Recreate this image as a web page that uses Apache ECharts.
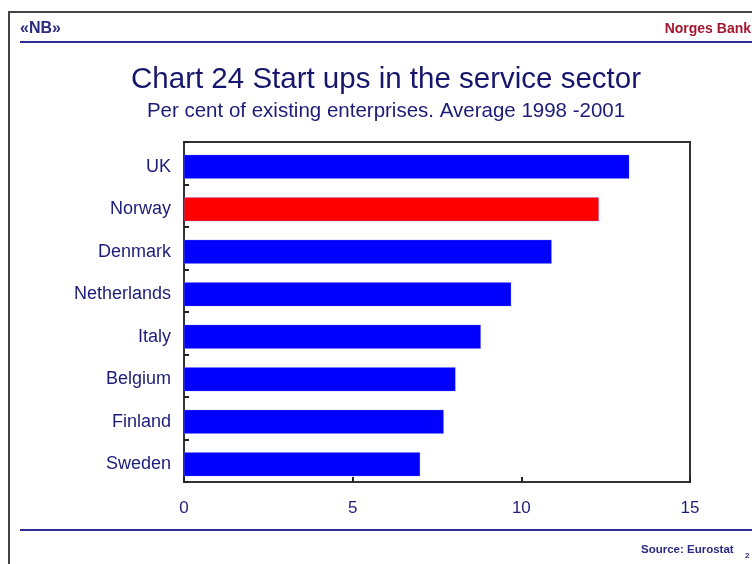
<!DOCTYPE html>
<html>
<head>
<meta charset="utf-8">
<script src="https://cdn.jsdelivr.net/npm/echarts@6/dist/echarts.min.js"></script>
<style>
  html, body { margin: 0; padding: 0; background: #ffffff; }
  #chart { width: 752px; height: 564px; }
</style>
</head>
<body>
<div id="chart"></div>
<script>
// Start-up rates in the service sector, per cent of existing enterprises
const countries = ['UK', 'Norway', 'Denmark', 'Netherlands', 'Italy', 'Belgium', 'Finland', 'Sweden'];
const startUpRates = [13.2, 12.3, 10.9, 9.7, 8.8, 8.05, 7.7, 7.0];
const highlightCountry = 'Norway';
const xTicks = [0, 5, 10, 15];

const FONT = '"Liberation Sans", Arial, Helvetica, sans-serif';
const NAVY = '#1c1c78';
const RULE = '#2e2e92';

const chart = echarts.init(document.getElementById('chart'), null, { renderer: 'canvas' });

const barData = countries.map((c, i) => ({
  value: startUpRates[i],
  itemStyle: { color: c === highlightCountry ? '#ff0000' : '#0000ff' }
}));

const xMin = xTicks[0];
const xMax = xTicks[xTicks.length - 1];
const xStep = xTicks[1] - xTicks[0];

// Two overlaid grids: the framed one carries the axes and tick marks,
// the second (nudged down a little) carries the bars and country names.
chart.setOption({
  animation: false,
  backgroundColor: '#ffffff',
  title: [{
    text: 'Chart 24 Start ups in the service sector',
    left: 381,
    textAlign: 'center',
    top: 60,
    textStyle: { fontFamily: FONT, fontSize: 29.5, fontWeight: 'normal', color: '#16166c' }
  }, {
    text: 'Per cent of existing enterprises. Average 1998 -2001',
    left: 381,
    textAlign: 'center',
    top: 96,
    textStyle: { fontFamily: FONT, fontSize: 20.5, fontWeight: 'normal', color: NAVY }
  }],
  grid: [
    { left: 184, top: 142, width: 506, height: 340,
      show: true, borderColor: '#333333', borderWidth: 2, backgroundColor: '#ffffff' },
    { left: 184, top: 145.5, width: 506, height: 340 }
  ],
  xAxis: [{
    type: 'value', gridIndex: 0,
    min: xMin, max: xMax, interval: xStep,
    splitLine: { show: false },
    axisLine: { show: true, lineStyle: { color: '#333333', width: 2 } },
    axisTick: { show: true, inside: true, length: 5, lineStyle: { color: '#222222', width: 2 } },
    axisLabel: { color: NAVY, fontFamily: FONT, fontSize: 17, margin: 18 }
  }, {
    type: 'value', gridIndex: 1,
    min: xMin, max: xMax, interval: xStep,
    show: false
  }],
  yAxis: [{
    type: 'category', gridIndex: 0,
    inverse: true,
    data: countries,
    axisLine: { show: true, lineStyle: { color: '#333333', width: 2 } },
    axisTick: { show: true, inside: true, length: 5, lineStyle: { color: '#222222', width: 2 } },
    axisLabel: { show: false }
  }, {
    type: 'category', gridIndex: 1,
    inverse: true,
    data: countries,
    axisLine: { show: false },
    axisTick: { show: false },
    splitLine: { show: false },
    axisLabel: { color: NAVY, fontFamily: FONT, fontSize: 18, margin: 13 }
  }],
  series: [{
    type: 'bar',
    xAxisIndex: 1,
    yAxisIndex: 1,
    data: barData,
    barWidth: 24,
    itemStyle: { borderColor: 'rgba(120,120,255,0.6)', borderWidth: 0.5 }
  }],
  graphic: [
    // page frame
    { type: 'line', shape: { x1: 9, y1: 12, x2: 752, y2: 12 }, style: { stroke: '#444444', lineWidth: 2 } },
    { type: 'line', shape: { x1: 9, y1: 11, x2: 9, y2: 564 }, style: { stroke: '#444444', lineWidth: 2 } },
    // header and footer rules
    { type: 'line', shape: { x1: 20, y1: 42, x2: 752, y2: 42 }, style: { stroke: RULE, lineWidth: 2 } },
    { type: 'line', shape: { x1: 20, y1: 530, x2: 752, y2: 530 }, style: { stroke: RULE, lineWidth: 2 } },
    // header texts
    { type: 'text', left: 20, top: 21, style: { text: '«NB»', font: 'bold 16px ' + FONT, fill: '#2a2a80' } },
    { type: 'text', right: 1, top: 22, style: { text: 'Norges Bank', font: 'bold 14px ' + FONT, fill: '#a3182e' } },
    // footer texts
    { type: 'text', left: 641, top: 544, style: { text: 'Source: Eurostat', font: 'bold 11.5px ' + FONT, fill: '#2a2a80' } },
    { type: 'text', left: 745, top: 552, style: { text: '2', font: 'bold 8px ' + FONT, fill: '#2a2a80' } }
  ]
});
</script>
</body>
</html>
